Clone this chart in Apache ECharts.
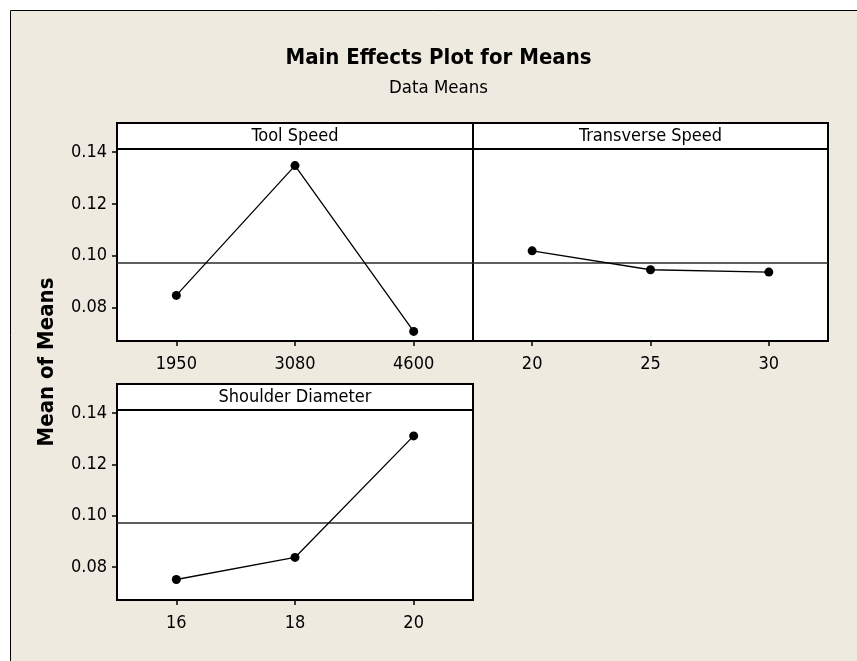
<!DOCTYPE html>
<html>
<head>
<meta charset="utf-8">
<script src="https://cdn.jsdelivr.net/npm/echarts@6/dist/echarts.min.js"></script>
<style>
html,body{margin:0;padding:0;background:#fff;}
#chart{width:857px;height:661px;}
</style>
</head>
<body>
<div id="chart"></div>
<script>
// ---- data ----
const toolSpeedCats = ['1950', '3080', '4600'];
const toolSpeedMeans = [0.0847, 0.1348, 0.0708];
const transverseCats = ['20', '25', '30'];
const transverseMeans = [0.1019, 0.0946, 0.0937];
const shoulderCats = ['16', '18', '20'];
const shoulderMeans = [0.0751, 0.0837, 0.1311];
const grandMean = 0.0973;
const yTicks = [0.08, 0.10, 0.12, 0.14];
const panelTitles = ['Tool Speed', 'Transverse Speed', 'Shoulder Diameter'];
const chartTitle = 'Main Effects Plot for Means';
const chartSubtitle = 'Data Means';
const yAxisName = 'Mean of Means';

// ---- styling ----
const FONT = "'DejaVu Sans Condensed', 'DejaVu Sans', sans-serif";
const BG = '#EEEAE0';
const yMin = 0.0671, yMax = 0.1412;

const panels = [
  {left: 117, top: 149, width: 356, height: 192, cats: toolSpeedCats, vals: toolSpeedMeans, showY: true},
  {left: 473, top: 149, width: 355, height: 192, cats: transverseCats, vals: transverseMeans, showY: false},
  {left: 117, top: 410, width: 356, height: 190, cats: shoulderCats, vals: shoulderMeans, showY: true}
];
const headerH = 26;

const chart = echarts.init(document.getElementById('chart'), null, {renderer: 'canvas'});

const grid = panels.map(p => ({
  left: p.left, top: p.top, width: p.width, height: p.height,
  show: true, backgroundColor: '#fff', borderColor: '#000', borderWidth: 2,
  containLabel: false
}));

const xAxis = panels.map((p, i) => ({
  type: 'category', gridIndex: i, data: p.cats, boundaryGap: true,
  axisLine: {show: false},
  axisTick: {show: true, alignWithLabel: true, length: 5, lineStyle: {color: '#000', width: 1.5}},
  axisLabel: {show: true, color: '#000', fontFamily: FONT, fontSize: 18, margin: 14},
  splitLine: {show: false}
}));

const yAxis = panels.map((p, i) => ({
  type: 'value', gridIndex: i, min: yMin, max: yMax,
  axisLine: {show: false},
  splitLine: {show: false},
  axisTick: {show: p.showY, length: 5, customValues: yTicks, lineStyle: {color: '#000', width: 1.5}},
  axisLabel: {show: p.showY, customValues: yTicks, color: '#000', fontFamily: FONT, fontSize: 18, margin: 10,
    formatter: v => v.toFixed(2)}
}));

const series = panels.map((p, i) => ({
  type: 'line', xAxisIndex: i, yAxisIndex: i, data: p.vals,
  symbol: 'circle', symbolSize: 9, showSymbol: true,
  itemStyle: {color: '#000'},
  lineStyle: {color: '#000', width: 1.3},
  markLine: {
    silent: true, symbol: 'none', animation: false, precision: 5,
    label: {show: false},
    lineStyle: {color: '#2a2a2a', width: 1.6, type: 'solid'},
    data: [{yAxis: grandMean}]
  },
  z: 5
}));

const graphics = [
  // white margin outside the frame
  {type: 'rect', shape: {x: 0, y: 0, width: 857, height: 10}, style: {fill: '#fff'}, z: 0},
  {type: 'rect', shape: {x: 0, y: 0, width: 10, height: 661}, style: {fill: '#fff'}, z: 0},
  {type: 'line', shape: {x1: 10.5, y1: 10.5, x2: 857, y2: 10.5}, style: {stroke: '#000', lineWidth: 1}, z: 1},
  {type: 'line', shape: {x1: 10.5, y1: 10.5, x2: 10.5, y2: 661}, style: {stroke: '#000', lineWidth: 1}, z: 1},
  // title / subtitle
  {type: 'text', x: 438.5, y: 58, style: {text: chartTitle, fill: '#000', font: "bold 22px " + FONT, textAlign: 'center', textVerticalAlign: 'middle'}, z: 10},
  {type: 'text', x: 438.5, y: 88, style: {text: chartSubtitle, fill: '#000', font: "18.5px " + FONT, textAlign: 'center', textVerticalAlign: 'middle'}, z: 10},
  // y axis name
  {type: 'text', x: 47, y: 362, rotation: Math.PI / 2, style: {text: yAxisName, fill: '#000', font: "bold 22px " + FONT, textAlign: 'center', textVerticalAlign: 'middle'}, z: 10}
];
panels.forEach((p, i) => {
  graphics.push({type: 'rect', shape: {x: p.left, y: p.top - headerH, width: p.width, height: headerH},
    style: {fill: '#fff', stroke: '#000', lineWidth: 2}, z: 10});
  graphics.push({type: 'text', x: p.left + p.width / 2, y: p.top - headerH / 2,
    style: {text: panelTitles[i], fill: '#000', font: "18px " + FONT, textAlign: 'center', textVerticalAlign: 'middle'}, z: 11});
});

chart.setOption({
  backgroundColor: BG,
  animation: false,
  grid: grid,
  xAxis: xAxis,
  yAxis: yAxis,
  series: series,
  graphic: {elements: graphics}
});
</script>
</body>
</html>
